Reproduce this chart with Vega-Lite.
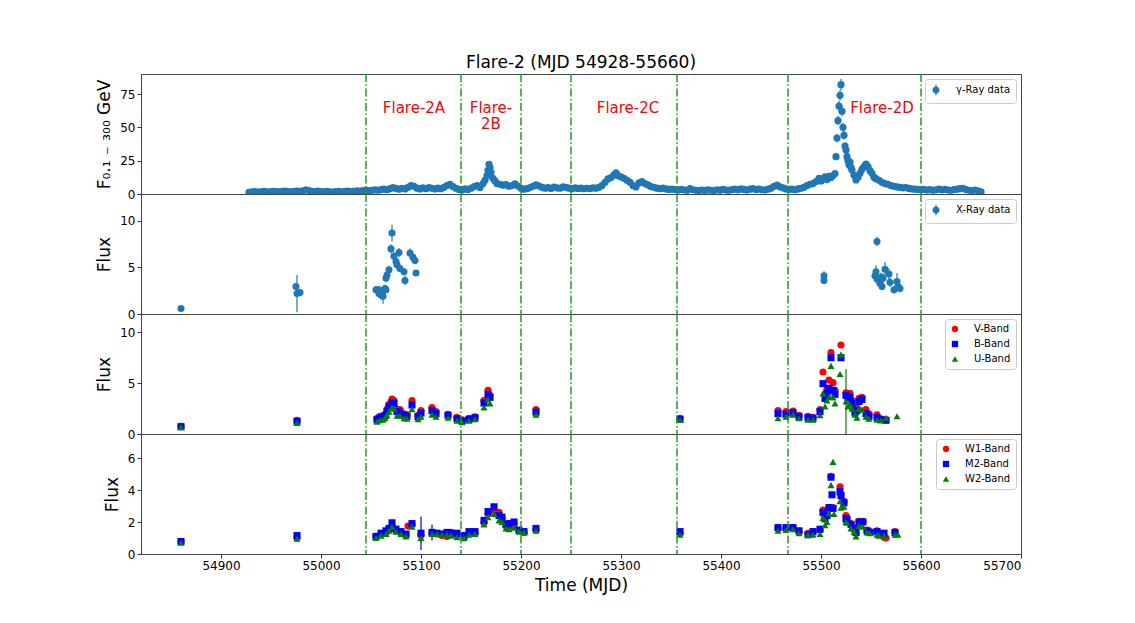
{
  "$schema": "https://vega.github.io/schema/vega-lite/v6.json",
  "background": "white",
  "padding": {"left": 95, "top": 53, "right": 10, "bottom": 10},
  "bounds": "flush",
  "datasets": {
    "gamma": [
      {"t":54928,"f":1.2,"e":0.6},{"t":54931,"f":1.6,"e":0.6},{"t":54934,"f":1.8,"e":0.6},{"t":54937,"f":1.5,"e":0.6},{"t":54940,"f":1.7,"e":0.6},
      {"t":54943,"f":1.9,"e":0.6},{"t":54946,"f":1.7,"e":0.6},{"t":54949,"f":1.6,"e":0.6},{"t":54952,"f":2.0,"e":0.6},{"t":54955,"f":1.8,"e":0.6},
      {"t":54958,"f":1.6,"e":0.6},{"t":54961,"f":1.9,"e":0.6},{"t":54964,"f":2.1,"e":0.6},{"t":54967,"f":1.8,"e":0.6},{"t":54970,"f":1.7,"e":0.6},
      {"t":54973,"f":2.0,"e":0.6},{"t":54976,"f":2.2,"e":0.6},{"t":54979,"f":1.9,"e":0.6},{"t":54982,"f":2.4,"e":0.6},{"t":54985,"f":3.2,"e":0.6},
      {"t":54988,"f":2.5,"e":0.6},{"t":54991,"f":2.0,"e":0.6},{"t":54994,"f":1.8,"e":0.6},{"t":54997,"f":2.1,"e":0.6},{"t":55000,"f":1.8,"e":0.6},
      {"t":55003,"f":1.6,"e":0.6},{"t":55006,"f":1.9,"e":0.6},{"t":55009,"f":1.7,"e":0.6},{"t":55012,"f":1.5,"e":0.6},{"t":55015,"f":1.8,"e":0.6},
      {"t":55018,"f":2.0,"e":0.6},{"t":55021,"f":1.7,"e":0.6},{"t":55024,"f":1.9,"e":0.6},{"t":55027,"f":2.1,"e":0.6},{"t":55030,"f":1.8,"e":0.6},
      {"t":55033,"f":2.0,"e":0.6},{"t":55036,"f":2.3,"e":0.6},{"t":55039,"f":2.1,"e":0.6},{"t":55042,"f":2.5,"e":0.6},{"t":55045,"f":2.7,"e":0.6},
      {"t":55048,"f":2.5,"e":0.6},{"t":55051,"f":2.8,"e":0.6},{"t":55054,"f":3.1,"e":0.6},{"t":55057,"f":2.8,"e":0.6},{"t":55060,"f":3.3,"e":0.6},
      {"t":55063,"f":3.7,"e":0.6},{"t":55066,"f":3.2,"e":0.6},{"t":55069,"f":4.0,"e":0.6},{"t":55072,"f":4.8,"e":0.7},{"t":55075,"f":4.2,"e":0.6},
      {"t":55078,"f":3.6,"e":0.6},{"t":55081,"f":4.3,"e":0.6},{"t":55084,"f":3.8,"e":0.6},{"t":55087,"f":5.0,"e":0.8},{"t":55090,"f":6.3,"e":0.9},
      {"t":55093,"f":5.8,"e":0.9},{"t":55096,"f":4.4,"e":0.6},{"t":55099,"f":3.8,"e":0.6},{"t":55102,"f":4.6,"e":0.7},{"t":55105,"f":4.0,"e":0.6},
      {"t":55108,"f":4.8,"e":0.7},{"t":55111,"f":4.3,"e":0.6},{"t":55114,"f":3.8,"e":0.6},{"t":55117,"f":4.4,"e":0.6},{"t":55120,"f":4.0,"e":0.6},
      {"t":55123,"f":5.0,"e":0.8},{"t":55126,"f":6.3,"e":0.9},{"t":55129,"f":7.2,"e":0.9},{"t":55132,"f":5.6,"e":0.8},{"t":55135,"f":4.3,"e":0.6},
      {"t":55138,"f":3.4,"e":0.6},{"t":55141,"f":3.0,"e":0.6},{"t":55144,"f":3.8,"e":0.6},{"t":55147,"f":3.3,"e":0.6},{"t":55150,"f":4.3,"e":0.6},
      {"t":55153,"f":5.6,"e":0.8},{"t":55156,"f":6.3,"e":0.9},{"t":55159,"f":4.8,"e":0.7},{"t":55162,"f":7.8,"e":1.0},{"t":55164,"f":10.3,"e":1.3},
      {"t":55166,"f":13.8,"e":1.5},{"t":55167,"f":17.8,"e":1.8},{"t":55168,"f":22.3,"e":2.2},{"t":55169,"f":19.8,"e":2.0},{"t":55170,"f":16.3,"e":1.7},
      {"t":55172,"f":11.8,"e":1.4},{"t":55174,"f":9.8,"e":1.2},{"t":55176,"f":7.8,"e":1.0},{"t":55179,"f":7.3,"e":1.0},{"t":55182,"f":6.6,"e":0.9},
      {"t":55185,"f":7.0,"e":0.9},{"t":55188,"f":5.8,"e":0.8},{"t":55191,"f":6.3,"e":0.9},{"t":55194,"f":7.6,"e":1.0},{"t":55197,"f":6.0,"e":0.8},
      {"t":55200,"f":4.3,"e":0.6},{"t":55203,"f":3.6,"e":0.6},{"t":55206,"f":4.0,"e":0.6},{"t":55209,"f":4.8,"e":0.7},{"t":55212,"f":5.8,"e":0.8},
      {"t":55215,"f":6.8,"e":0.9},{"t":55218,"f":6.0,"e":0.8},{"t":55221,"f":5.0,"e":0.7},{"t":55224,"f":4.4,"e":0.6},{"t":55227,"f":4.8,"e":0.7},
      {"t":55230,"f":4.2,"e":0.6},{"t":55233,"f":5.2,"e":0.7},{"t":55236,"f":4.6,"e":0.7},{"t":55239,"f":4.3,"e":0.6},{"t":55242,"f":5.4,"e":0.8},
      {"t":55245,"f":5.0,"e":0.7},{"t":55248,"f":4.4,"e":0.6},{"t":55251,"f":4.0,"e":0.6},{"t":55254,"f":4.6,"e":0.7},{"t":55257,"f":4.2,"e":0.6},
      {"t":55260,"f":4.4,"e":0.6},{"t":55263,"f":4.0,"e":0.6},{"t":55266,"f":4.3,"e":0.6},{"t":55269,"f":4.1,"e":0.6},{"t":55272,"f":4.6,"e":0.7},
      {"t":55275,"f":4.4,"e":0.6},{"t":55278,"f":5.0,"e":0.7},{"t":55281,"f":6.3,"e":0.9},{"t":55284,"f":8.8,"e":1.1},{"t":55287,"f":11.3,"e":1.3},
      {"t":55290,"f":12.3,"e":1.4},{"t":55293,"f":14.3,"e":1.5},{"t":55295,"f":15.8,"e":1.6},{"t":55297,"f":13.8,"e":1.5},{"t":55300,"f":12.8,"e":1.4},
      {"t":55303,"f":11.8,"e":1.4},{"t":55306,"f":10.3,"e":1.3},{"t":55309,"f":8.8,"e":1.1},{"t":55312,"f":6.3,"e":0.9},{"t":55315,"f":5.3,"e":0.8},
      {"t":55318,"f":8.3,"e":1.1},{"t":55321,"f":9.3,"e":1.2},{"t":55324,"f":7.8,"e":1.0},{"t":55327,"f":6.8,"e":0.9},{"t":55330,"f":5.6,"e":0.8},
      {"t":55333,"f":5.0,"e":0.7},{"t":55336,"f":4.4,"e":0.6},{"t":55339,"f":4.0,"e":0.6},{"t":55342,"f":4.4,"e":0.6},{"t":55345,"f":3.8,"e":0.6},
      {"t":55348,"f":3.4,"e":0.6},{"t":55351,"f":3.7,"e":0.6},{"t":55354,"f":3.3,"e":0.6},{"t":55357,"f":3.0,"e":0.6},{"t":55360,"f":3.4,"e":0.6},
      {"t":55363,"f":3.1,"e":0.6},{"t":55366,"f":2.8,"e":0.6},{"t":55369,"f":4.0,"e":0.6},{"t":55372,"f":3.2,"e":0.6},{"t":55375,"f":2.8,"e":0.6},
      {"t":55378,"f":2.6,"e":0.6},{"t":55381,"f":3.0,"e":0.6},{"t":55384,"f":2.7,"e":0.6},{"t":55387,"f":3.1,"e":0.6},{"t":55390,"f":2.8,"e":0.6},
      {"t":55393,"f":2.6,"e":0.6},{"t":55396,"f":3.2,"e":0.6},{"t":55399,"f":2.9,"e":0.6},{"t":55402,"f":3.4,"e":0.6},{"t":55405,"f":3.0,"e":0.6},
      {"t":55408,"f":2.8,"e":0.6},{"t":55411,"f":3.3,"e":0.6},{"t":55414,"f":3.6,"e":0.6},{"t":55417,"f":3.1,"e":0.6},{"t":55420,"f":3.8,"e":0.6},
      {"t":55423,"f":3.4,"e":0.6},{"t":55426,"f":3.0,"e":0.6},{"t":55429,"f":3.6,"e":0.6},{"t":55432,"f":4.0,"e":0.6},{"t":55435,"f":3.3,"e":0.6},
      {"t":55438,"f":3.7,"e":0.6},{"t":55441,"f":3.2,"e":0.6},{"t":55444,"f":3.0,"e":0.6},{"t":55447,"f":3.6,"e":0.6},{"t":55450,"f":4.3,"e":0.6},
      {"t":55453,"f":5.8,"e":0.8},{"t":55456,"f":6.6,"e":0.9},{"t":55459,"f":5.3,"e":0.8},{"t":55462,"f":4.6,"e":0.7},{"t":55465,"f":3.8,"e":0.6},
      {"t":55468,"f":3.4,"e":0.6},{"t":55471,"f":3.6,"e":0.6},{"t":55474,"f":3.2,"e":0.6},{"t":55477,"f":3.8,"e":0.6},{"t":55480,"f":4.3,"e":0.6},
      {"t":55483,"f":5.0,"e":0.7},{"t":55486,"f":6.3,"e":0.9},{"t":55489,"f":7.3,"e":1.0},{"t":55492,"f":7.8,"e":1.0},{"t":55495,"f":9.3,"e":1.2},
      {"t":55498,"f":11.8,"e":1.4},{"t":55500,"f":9.8,"e":1.2},{"t":55502,"f":11.3,"e":1.3},{"t":55504,"f":12.8,"e":1.4},{"t":55506,"f":10.8,"e":1.3},
      {"t":55508,"f":13.3,"e":1.5},{"t":55510,"f":12.3,"e":1.4},{"t":55512,"f":13.8,"e":1.5},{"t":55514,"f":15.3,"e":1.6},{"t":55515,"f":28.0,"e":2.4},
      {"t":55516,"f":42.0,"e":3.2},{"t":55517,"f":55.0,"e":3.5},{"t":55518,"f":66.0,"e":3.8},{"t":55519,"f":74.0,"e":4.0},{"t":55520,"f":82.0,"e":4.2},
      {"t":55521,"f":62.0,"e":3.6},{"t":55522,"f":50.0,"e":3.4},{"t":55523,"f":44.0,"e":3.2},{"t":55524,"f":36.0,"e":2.8},{"t":55525,"f":33.0,"e":2.6},
      {"t":55526,"f":28.0,"e":2.4},{"t":55527,"f":25.0,"e":2.2},{"t":55528,"f":22.0,"e":2.1},{"t":55529,"f":24.0,"e":2.2},{"t":55530,"f":20.0,"e":2.0},
      {"t":55531,"f":18.0,"e":1.8},{"t":55533,"f":14.0,"e":1.5},{"t":55535,"f":10.5,"e":1.3},{"t":55537,"f":12.5,"e":1.4},{"t":55539,"f":15.5,"e":1.6},
      {"t":55541,"f":18.5,"e":1.8},{"t":55543,"f":20.5,"e":2.0},{"t":55545,"f":22.5,"e":2.1},{"t":55547,"f":20.5,"e":2.0},{"t":55549,"f":17.5,"e":1.8},
      {"t":55551,"f":15.5,"e":1.6},{"t":55553,"f":12.5,"e":1.4},{"t":55555,"f":11.5,"e":1.4},{"t":55558,"f":10.3,"e":1.3},{"t":55561,"f":8.8,"e":1.1},
      {"t":55564,"f":7.8,"e":1.0},{"t":55567,"f":7.3,"e":1.0},{"t":55570,"f":6.3,"e":0.9},{"t":55573,"f":5.8,"e":0.8},{"t":55576,"f":5.3,"e":0.8},
      {"t":55579,"f":5.0,"e":0.7},{"t":55582,"f":4.6,"e":0.7},{"t":55585,"f":4.8,"e":0.7},{"t":55588,"f":4.2,"e":0.6},{"t":55591,"f":3.8,"e":0.6},
      {"t":55594,"f":3.6,"e":0.6},{"t":55597,"f":3.4,"e":0.6},{"t":55600,"f":3.2,"e":0.6},{"t":55603,"f":3.4,"e":0.6},{"t":55606,"f":3.0,"e":0.6},
      {"t":55609,"f":3.3,"e":0.6},{"t":55612,"f":2.8,"e":0.6},{"t":55615,"f":3.2,"e":0.6},{"t":55618,"f":3.6,"e":0.6},{"t":55621,"f":3.1,"e":0.6},
      {"t":55624,"f":3.4,"e":0.6},{"t":55627,"f":3.0,"e":0.6},{"t":55630,"f":2.8,"e":0.6},{"t":55633,"f":3.3,"e":0.6},{"t":55636,"f":3.6,"e":0.6},
      {"t":55639,"f":4.0,"e":0.6},{"t":55642,"f":4.3,"e":0.6},{"t":55645,"f":3.3,"e":0.6},{"t":55648,"f":2.8,"e":0.6},{"t":55651,"f":2.6,"e":0.6},
      {"t":55654,"f":3.0,"e":0.6},{"t":55657,"f":2.4,"e":0.6},{"t":55660,"f":1.6,"e":0.6}
    ],
    "xray": [
      {"t":54860,"f":0.6,"e":0.1},{"t":54975,"f":2.95,"e":0.3},{"t":54976,"f":2.2,"e":2.0},{"t":54979,"f":2.3,"e":0.3},
      {"t":55055,"f":2.6,"e":0.4},{"t":55058,"f":2.6,"e":0.4},{"t":55058,"f":2.2,"e":0.4},{"t":55060,"f":2.05,"e":0.5},
      {"t":55061,"f":2.4,"e":0.4},{"t":55062,"f":1.9,"e":0.8},{"t":55064,"f":2.75,"e":0.4},{"t":55065,"f":2.6,"e":0.4},
      {"t":55065,"f":3.85,"e":0.4},{"t":55066,"f":4.2,"e":0.4},{"t":55068,"f":4.75,"e":0.4},{"t":55070,"f":7.0,"e":0.5},
      {"t":55071,"f":8.7,"e":0.9},{"t":55073,"f":6.2,"e":0.5},{"t":55075,"f":5.65,"e":0.4},{"t":55076,"f":5.3,"e":0.4},
      {"t":55078,"f":6.6,"e":0.5},{"t":55079,"f":4.9,"e":0.4},{"t":55083,"f":4.55,"e":0.4},{"t":55084,"f":3.6,"e":0.5},
      {"t":55089,"f":6.55,"e":0.5},{"t":55092,"f":6.1,"e":0.4},{"t":55094,"f":5.75,"e":0.4},{"t":55095,"f":4.4,"e":0.3},
      {"t":55503,"f":4.1,"e":0.5},{"t":55503,"f":3.6,"e":0.4},{"t":55554,"f":4.1,"e":0.6},{"t":55555,"f":4.55,"e":0.7},
      {"t":55556,"f":7.8,"e":0.5},{"t":55556,"f":3.75,"e":0.5},{"t":55559,"f":3.3,"e":0.4},{"t":55560,"f":3.95,"e":0.5},
      {"t":55561,"f":2.95,"e":0.4},{"t":55562,"f":3.85,"e":0.5},{"t":55564,"f":4.8,"e":0.8},{"t":55568,"f":4.3,"e":0.6},
      {"t":55569,"f":3.4,"e":0.5},{"t":55573,"f":2.6,"e":0.4},{"t":55576,"f":3.5,"e":0.9},{"t":55577,"f":2.95,"e":0.5},
      {"t":55579,"f":2.75,"e":0.4}
    ],
    "opt": [
      {"t":54860,"b":"V-Band","f":0.75,"e":0.1},{"t":54976,"b":"V-Band","f":1.35,"e":0.1},{"t":55056,"b":"V-Band","f":1.55,"e":0.1},
      {"t":55059,"b":"V-Band","f":1.75,"e":0.1},{"t":55062,"b":"V-Band","f":1.8,"e":0.1},{"t":55064,"b":"V-Band","f":1.95,"e":0.1},
      {"t":55066,"b":"V-Band","f":2.45,"e":0.1},{"t":55068,"b":"V-Band","f":2.95,"e":0.1},{"t":55071,"b":"V-Band","f":3.45,"e":0.1},
      {"t":55073,"b":"V-Band","f":3.3,"e":0.1},{"t":55076,"b":"V-Band","f":2.45,"e":0.1},{"t":55079,"b":"V-Band","f":2.4,"e":0.1},
      {"t":55083,"b":"V-Band","f":2.0,"e":0.1},{"t":55086,"b":"V-Band","f":1.9,"e":0.1},{"t":55091,"b":"V-Band","f":3.3,"e":0.1},
      {"t":55097,"b":"V-Band","f":1.85,"e":0.1},{"t":55100,"b":"V-Band","f":2.3,"e":0.1},{"t":55111,"b":"V-Band","f":2.6,"e":0.1},
      {"t":55115,"b":"V-Band","f":2.2,"e":0.1},{"t":55127,"b":"V-Band","f":1.95,"e":0.1},{"t":55136,"b":"V-Band","f":1.65,"e":0.1},
      {"t":55141,"b":"V-Band","f":1.4,"e":0.1},{"t":55148,"b":"V-Band","f":1.55,"e":0.1},{"t":55154,"b":"V-Band","f":1.7,"e":0.1},
      {"t":55163,"b":"V-Band","f":3.3,"e":0.1},{"t":55167,"b":"V-Band","f":4.3,"e":0.1},{"t":55169,"b":"V-Band","f":3.8,"e":0.1},
      {"t":55215,"b":"V-Band","f":2.4,"e":0.1},{"t":55359,"b":"V-Band","f":1.55,"e":0.1},{"t":55457,"b":"V-Band","f":2.3,"e":0.1},
      {"t":55465,"b":"V-Band","f":2.2,"e":0.1},{"t":55472,"b":"V-Band","f":2.25,"e":0.1},{"t":55478,"b":"V-Band","f":1.85,"e":0.1},
      {"t":55487,"b":"V-Band","f":1.75,"e":0.1},{"t":55492,"b":"V-Band","f":1.65,"e":0.1},{"t":55499,"b":"V-Band","f":2.4,"e":0.1},
      {"t":55502,"b":"V-Band","f":6.1,"e":0.15},{"t":55504,"b":"V-Band","f":3.9,"e":0.1},{"t":55506,"b":"V-Band","f":4.4,"e":0.1},
      {"t":55508,"b":"V-Band","f":5.3,"e":0.15},{"t":55510,"b":"V-Band","f":8.0,"e":0.2},{"t":55512,"b":"V-Band","f":5.05,"e":0.15},
      {"t":55514,"b":"V-Band","f":4.3,"e":0.1},{"t":55520,"b":"V-Band","f":8.75,"e":0.2},{"t":55525,"b":"V-Band","f":4.05,"e":0.1},
      {"t":55527,"b":"V-Band","f":3.9,"e":0.1},{"t":55529,"b":"V-Band","f":4.0,"e":0.1},{"t":55531,"b":"V-Band","f":3.3,"e":0.1},
      {"t":55534,"b":"V-Band","f":2.4,"e":0.1},{"t":55536,"b":"V-Band","f":2.6,"e":0.1},{"t":55538,"b":"V-Band","f":3.5,"e":0.1},
      {"t":55541,"b":"V-Band","f":3.6,"e":0.1},{"t":55545,"b":"V-Band","f":2.4,"e":0.1},{"t":55548,"b":"V-Band","f":2.0,"e":0.1},
      {"t":55556,"b":"V-Band","f":1.9,"e":0.1},{"t":55560,"b":"V-Band","f":1.5,"e":0.1},{"t":55565,"b":"V-Band","f":1.4,"e":0.1},
      {"t":54860,"b":"B-Band","f":0.72,"e":0.1},{"t":54976,"b":"B-Band","f":1.25,"e":0.1},{"t":55056,"b":"B-Band","f":1.4,"e":0.1},
      {"t":55059,"b":"B-Band","f":1.6,"e":0.1},{"t":55062,"b":"B-Band","f":1.65,"e":0.1},{"t":55064,"b":"B-Band","f":1.8,"e":0.1},
      {"t":55066,"b":"B-Band","f":2.2,"e":0.1},{"t":55068,"b":"B-Band","f":2.7,"e":0.1},{"t":55071,"b":"B-Band","f":3.1,"e":0.1},
      {"t":55073,"b":"B-Band","f":3.0,"e":0.1},{"t":55076,"b":"B-Band","f":2.2,"e":0.1},{"t":55079,"b":"B-Band","f":2.15,"e":0.1},
      {"t":55083,"b":"B-Band","f":1.85,"e":0.1},{"t":55086,"b":"B-Band","f":1.75,"e":0.1},{"t":55091,"b":"B-Band","f":2.85,"e":0.1},
      {"t":55097,"b":"B-Band","f":1.7,"e":0.1},{"t":55100,"b":"B-Band","f":2.05,"e":0.1},{"t":55111,"b":"B-Band","f":2.3,"e":0.1},
      {"t":55115,"b":"B-Band","f":2.0,"e":0.1},{"t":55127,"b":"B-Band","f":1.85,"e":0.1},{"t":55136,"b":"B-Band","f":1.5,"e":0.1},
      {"t":55141,"b":"B-Band","f":1.3,"e":0.1},{"t":55148,"b":"B-Band","f":1.45,"e":0.1},{"t":55154,"b":"B-Band","f":1.6,"e":0.1},
      {"t":55163,"b":"B-Band","f":3.05,"e":0.1},{"t":55167,"b":"B-Band","f":3.9,"e":0.1},{"t":55169,"b":"B-Band","f":3.6,"e":0.1},
      {"t":55215,"b":"B-Band","f":2.15,"e":0.1},{"t":55359,"b":"B-Band","f":1.45,"e":0.1},{"t":55457,"b":"B-Band","f":2.0,"e":0.1},
      {"t":55465,"b":"B-Band","f":1.95,"e":0.1},{"t":55472,"b":"B-Band","f":2.1,"e":0.1},{"t":55478,"b":"B-Band","f":1.7,"e":0.1},
      {"t":55487,"b":"B-Band","f":1.6,"e":0.1},{"t":55492,"b":"B-Band","f":1.55,"e":0.1},{"t":55499,"b":"B-Band","f":2.2,"e":0.1},
      {"t":55502,"b":"B-Band","f":4.95,"e":0.15},{"t":55504,"b":"B-Band","f":3.5,"e":0.1},{"t":55506,"b":"B-Band","f":4.0,"e":0.1},
      {"t":55508,"b":"B-Band","f":4.5,"e":0.15},{"t":55510,"b":"B-Band","f":7.5,"e":0.2},{"t":55512,"b":"B-Band","f":4.3,"e":0.15},
      {"t":55514,"b":"B-Band","f":3.9,"e":0.1},{"t":55520,"b":"B-Band","f":7.5,"e":0.2},{"t":55525,"b":"B-Band","f":3.8,"e":0.1},
      {"t":55527,"b":"B-Band","f":3.6,"e":0.1},{"t":55529,"b":"B-Band","f":3.6,"e":0.1},{"t":55531,"b":"B-Band","f":3.0,"e":0.1},
      {"t":55534,"b":"B-Band","f":2.1,"e":0.1},{"t":55536,"b":"B-Band","f":2.3,"e":0.1},{"t":55538,"b":"B-Band","f":3.2,"e":0.1},
      {"t":55541,"b":"B-Band","f":3.4,"e":0.1},{"t":55545,"b":"B-Band","f":2.0,"e":0.1},{"t":55548,"b":"B-Band","f":1.75,"e":0.1},
      {"t":55556,"b":"B-Band","f":1.6,"e":0.1},{"t":55560,"b":"B-Band","f":1.4,"e":0.1},{"t":55565,"b":"B-Band","f":1.35,"e":0.1},
      {"t":54860,"b":"U-Band","f":0.68,"e":0.1},{"t":54976,"b":"U-Band","f":1.1,"e":0.1},{"t":55056,"b":"U-Band","f":1.2,"e":0.1},
      {"t":55059,"b":"U-Band","f":1.35,"e":0.1},{"t":55062,"b":"U-Band","f":1.4,"e":0.1},{"t":55064,"b":"U-Band","f":1.55,"e":0.1},
      {"t":55066,"b":"U-Band","f":1.85,"e":0.1},{"t":55068,"b":"U-Band","f":2.2,"e":0.1},{"t":55071,"b":"U-Band","f":2.6,"e":0.1},
      {"t":55073,"b":"U-Band","f":2.5,"e":0.1},{"t":55076,"b":"U-Band","f":1.8,"e":0.1},{"t":55079,"b":"U-Band","f":1.8,"e":0.1},
      {"t":55083,"b":"U-Band","f":1.55,"e":0.1},{"t":55086,"b":"U-Band","f":1.5,"e":0.1},{"t":55091,"b":"U-Band","f":2.45,"e":0.1},
      {"t":55097,"b":"U-Band","f":1.45,"e":0.1},{"t":55100,"b":"U-Band","f":1.7,"e":0.1},{"t":55111,"b":"U-Band","f":1.9,"e":0.1},
      {"t":55115,"b":"U-Band","f":1.7,"e":0.1},{"t":55127,"b":"U-Band","f":1.6,"e":0.1},{"t":55136,"b":"U-Band","f":1.3,"e":0.1},
      {"t":55141,"b":"U-Band","f":1.15,"e":0.1},{"t":55148,"b":"U-Band","f":1.3,"e":0.1},{"t":55154,"b":"U-Band","f":1.45,"e":0.1},
      {"t":55163,"b":"U-Band","f":2.6,"e":0.1},{"t":55167,"b":"U-Band","f":3.4,"e":0.1},{"t":55169,"b":"U-Band","f":3.0,"e":0.1},
      {"t":55215,"b":"U-Band","f":1.9,"e":0.1},{"t":55359,"b":"U-Band","f":1.4,"e":0.1},{"t":55457,"b":"U-Band","f":1.55,"e":0.1},
      {"t":55465,"b":"U-Band","f":1.7,"e":0.1},{"t":55472,"b":"U-Band","f":1.9,"e":0.1},{"t":55478,"b":"U-Band","f":1.55,"e":0.1},
      {"t":55487,"b":"U-Band","f":1.4,"e":0.1},{"t":55492,"b":"U-Band","f":1.4,"e":0.1},{"t":55499,"b":"U-Band","f":1.85,"e":0.1},
      {"t":55502,"b":"U-Band","f":4.0,"e":0.15},{"t":55504,"b":"U-Band","f":2.7,"e":0.1},{"t":55506,"b":"U-Band","f":3.3,"e":0.1},
      {"t":55508,"b":"U-Band","f":3.65,"e":0.15},{"t":55510,"b":"U-Band","f":6.7,"e":0.2},{"t":55512,"b":"U-Band","f":3.6,"e":0.15},
      {"t":55514,"b":"U-Band","f":3.0,"e":0.1},{"t":55519,"b":"U-Band","f":5.9,"e":0.2},{"t":55520,"b":"U-Band","f":7.8,"e":0.2},
      {"t":55525,"b":"U-Band","f":3.2,"e":3.2},{"t":55527,"b":"U-Band","f":2.7,"e":0.1},{"t":55529,"b":"U-Band","f":2.9,"e":0.1},
      {"t":55531,"b":"U-Band","f":2.5,"e":0.1},{"t":55534,"b":"U-Band","f":1.9,"e":0.1},{"t":55536,"b":"U-Band","f":1.6,"e":0.1},
      {"t":55538,"b":"U-Band","f":2.5,"e":0.1},{"t":55541,"b":"U-Band","f":2.4,"e":0.1},{"t":55545,"b":"U-Band","f":1.7,"e":0.1},
      {"t":55548,"b":"U-Band","f":1.5,"e":0.1},{"t":55556,"b":"U-Band","f":1.4,"e":0.1},{"t":55560,"b":"U-Band","f":1.35,"e":0.1},
      {"t":55565,"b":"U-Band","f":1.6,"e":0.1},{"t":55576,"b":"U-Band","f":1.75,"e":0.1}
    ],
    "uv": [
      {"t":54860,"b":"W1-Band","f":0.75,"e":0.08},{"t":54976,"b":"W1-Band","f":1.0,"e":0.08},{"t":55055,"b":"W1-Band","f":1.1,"e":0.08},
      {"t":55060,"b":"W1-Band","f":1.25,"e":0.08},{"t":55065,"b":"W1-Band","f":1.35,"e":0.08},{"t":55068,"b":"W1-Band","f":1.5,"e":0.08},
      {"t":55071,"b":"W1-Band","f":1.75,"e":0.08},{"t":55075,"b":"W1-Band","f":1.45,"e":0.08},{"t":55080,"b":"W1-Band","f":1.3,"e":0.08},
      {"t":55085,"b":"W1-Band","f":1.15,"e":0.08},{"t":55087,"b":"W1-Band","f":1.75,"e":0.08},{"t":55091,"b":"W1-Band","f":1.85,"e":0.08},
      {"t":55100,"b":"W1-Band","f":1.15,"e":0.08},{"t":55111,"b":"W1-Band","f":1.3,"e":0.08},{"t":55116,"b":"W1-Band","f":1.25,"e":0.08},
      {"t":55121,"b":"W1-Band","f":1.15,"e":0.08},{"t":55126,"b":"W1-Band","f":1.1,"e":0.08},{"t":55130,"b":"W1-Band","f":1.35,"e":0.08},
      {"t":55136,"b":"W1-Band","f":1.15,"e":0.08},{"t":55143,"b":"W1-Band","f":1.0,"e":0.08},{"t":55148,"b":"W1-Band","f":1.3,"e":0.08},
      {"t":55154,"b":"W1-Band","f":1.3,"e":0.08},{"t":55163,"b":"W1-Band","f":1.95,"e":0.08},{"t":55167,"b":"W1-Band","f":2.5,"e":0.08},
      {"t":55173,"b":"W1-Band","f":2.7,"e":0.08},{"t":55178,"b":"W1-Band","f":2.6,"e":0.08},{"t":55181,"b":"W1-Band","f":2.2,"e":0.08},
      {"t":55185,"b":"W1-Band","f":1.75,"e":0.08},{"t":55188,"b":"W1-Band","f":1.7,"e":0.08},{"t":55193,"b":"W1-Band","f":1.85,"e":0.08},
      {"t":55198,"b":"W1-Band","f":1.45,"e":0.08},{"t":55203,"b":"W1-Band","f":1.35,"e":0.08},{"t":55215,"b":"W1-Band","f":1.5,"e":0.08},
      {"t":55359,"b":"W1-Band","f":1.3,"e":0.08},{"t":55457,"b":"W1-Band","f":1.6,"e":0.08},{"t":55465,"b":"W1-Band","f":1.6,"e":0.08},
      {"t":55472,"b":"W1-Band","f":1.6,"e":0.08},{"t":55478,"b":"W1-Band","f":1.4,"e":0.08},{"t":55487,"b":"W1-Band","f":1.3,"e":0.08},
      {"t":55492,"b":"W1-Band","f":1.35,"e":0.08},{"t":55499,"b":"W1-Band","f":1.5,"e":0.08},{"t":55502,"b":"W1-Band","f":2.75,"e":0.1},
      {"t":55504,"b":"W1-Band","f":2.3,"e":0.1},{"t":55506,"b":"W1-Band","f":2.5,"e":0.1},{"t":55508,"b":"W1-Band","f":2.9,"e":0.1},
      {"t":55510,"b":"W1-Band","f":4.85,"e":0.15},{"t":55512,"b":"W1-Band","f":2.9,"e":0.1},{"t":55519,"b":"W1-Band","f":4.2,"e":0.15},
      {"t":55520,"b":"W1-Band","f":3.7,"e":0.1},{"t":55523,"b":"W1-Band","f":3.3,"e":0.1},{"t":55525,"b":"W1-Band","f":2.4,"e":0.1},
      {"t":55526,"b":"W1-Band","f":2.2,"e":0.1},{"t":55530,"b":"W1-Band","f":1.9,"e":0.08},{"t":55533,"b":"W1-Band","f":1.65,"e":0.08},
      {"t":55535,"b":"W1-Band","f":1.3,"e":0.08},{"t":55538,"b":"W1-Band","f":2.05,"e":0.08},{"t":55542,"b":"W1-Band","f":2.05,"e":0.08},
      {"t":55546,"b":"W1-Band","f":1.5,"e":0.08},{"t":55549,"b":"W1-Band","f":1.4,"e":0.08},{"t":55556,"b":"W1-Band","f":1.45,"e":0.08},
      {"t":55558,"b":"W1-Band","f":1.2,"e":0.08},{"t":55563,"b":"W1-Band","f":1.05,"e":0.08},{"t":55565,"b":"W1-Band","f":1.0,"e":0.08},
      {"t":55574,"b":"W1-Band","f":1.4,"e":0.08},
      {"t":54860,"b":"M2-Band","f":0.78,"e":0.08},{"t":54976,"b":"M2-Band","f":1.15,"e":0.08},{"t":55055,"b":"M2-Band","f":1.1,"e":0.08},
      {"t":55060,"b":"M2-Band","f":1.3,"e":0.08},{"t":55065,"b":"M2-Band","f":1.45,"e":0.08},{"t":55068,"b":"M2-Band","f":1.6,"e":0.08},
      {"t":55071,"b":"M2-Band","f":1.95,"e":0.08},{"t":55075,"b":"M2-Band","f":1.55,"e":0.08},{"t":55080,"b":"M2-Band","f":1.4,"e":0.08},
      {"t":55085,"b":"M2-Band","f":1.25,"e":0.08},{"t":55091,"b":"M2-Band","f":1.9,"e":0.08},{"t":55100,"b":"M2-Band","f":1.3,"e":1.05},
      {"t":55111,"b":"M2-Band","f":1.35,"e":0.5},{"t":55116,"b":"M2-Band","f":1.3,"e":0.08},{"t":55121,"b":"M2-Band","f":1.25,"e":0.08},
      {"t":55126,"b":"M2-Band","f":1.35,"e":0.08},{"t":55130,"b":"M2-Band","f":1.3,"e":0.08},{"t":55136,"b":"M2-Band","f":1.3,"e":0.08},
      {"t":55143,"b":"M2-Band","f":1.15,"e":0.08},{"t":55148,"b":"M2-Band","f":1.4,"e":0.08},{"t":55154,"b":"M2-Band","f":1.4,"e":0.08},
      {"t":55163,"b":"M2-Band","f":2.1,"e":0.08},{"t":55167,"b":"M2-Band","f":2.65,"e":0.08},{"t":55173,"b":"M2-Band","f":2.95,"e":0.08},
      {"t":55178,"b":"M2-Band","f":2.4,"e":0.08},{"t":55181,"b":"M2-Band","f":2.3,"e":0.08},{"t":55185,"b":"M2-Band","f":1.85,"e":0.08},
      {"t":55188,"b":"M2-Band","f":1.9,"e":0.08},{"t":55193,"b":"M2-Band","f":2.0,"e":0.08},{"t":55198,"b":"M2-Band","f":1.5,"e":0.08},
      {"t":55203,"b":"M2-Band","f":1.4,"e":0.08},{"t":55215,"b":"M2-Band","f":1.6,"e":0.08},{"t":55359,"b":"M2-Band","f":1.4,"e":0.08},
      {"t":55457,"b":"M2-Band","f":1.65,"e":0.08},{"t":55465,"b":"M2-Band","f":1.65,"e":0.08},{"t":55472,"b":"M2-Band","f":1.65,"e":0.08},
      {"t":55478,"b":"M2-Band","f":1.45,"e":0.08},{"t":55487,"b":"M2-Band","f":1.2,"e":0.08},{"t":55492,"b":"M2-Band","f":1.4,"e":0.08},
      {"t":55499,"b":"M2-Band","f":1.55,"e":0.08},{"t":55502,"b":"M2-Band","f":2.6,"e":0.1},{"t":55504,"b":"M2-Band","f":2.2,"e":0.1},
      {"t":55506,"b":"M2-Band","f":2.4,"e":0.1},{"t":55508,"b":"M2-Band","f":2.9,"e":0.1},{"t":55510,"b":"M2-Band","f":4.8,"e":0.15},
      {"t":55511,"b":"M2-Band","f":3.7,"e":0.1},{"t":55512,"b":"M2-Band","f":2.85,"e":0.1},{"t":55519,"b":"M2-Band","f":3.9,"e":0.15},
      {"t":55520,"b":"M2-Band","f":3.65,"e":0.1},{"t":55523,"b":"M2-Band","f":3.2,"e":0.1},{"t":55525,"b":"M2-Band","f":2.2,"e":0.1},
      {"t":55526,"b":"M2-Band","f":2.15,"e":0.1},{"t":55530,"b":"M2-Band","f":1.85,"e":0.08},{"t":55533,"b":"M2-Band","f":1.6,"e":0.08},
      {"t":55535,"b":"M2-Band","f":1.35,"e":0.08},{"t":55538,"b":"M2-Band","f":2.0,"e":0.08},{"t":55542,"b":"M2-Band","f":2.0,"e":0.08},
      {"t":55546,"b":"M2-Band","f":1.45,"e":0.08},{"t":55549,"b":"M2-Band","f":1.35,"e":0.08},{"t":55556,"b":"M2-Band","f":1.4,"e":0.08},
      {"t":55558,"b":"M2-Band","f":1.25,"e":0.08},{"t":55563,"b":"M2-Band","f":1.3,"e":0.08},{"t":55574,"b":"M2-Band","f":1.35,"e":0.08},
      {"t":54860,"b":"W2-Band","f":0.7,"e":0.08},{"t":54976,"b":"W2-Band","f":0.95,"e":0.08},{"t":55055,"b":"W2-Band","f":1.0,"e":0.08},
      {"t":55060,"b":"W2-Band","f":1.15,"e":0.08},{"t":55065,"b":"W2-Band","f":1.25,"e":0.08},{"t":55068,"b":"W2-Band","f":1.45,"e":0.08},
      {"t":55071,"b":"W2-Band","f":1.7,"e":0.08},{"t":55075,"b":"W2-Band","f":1.4,"e":0.08},{"t":55080,"b":"W2-Band","f":1.25,"e":0.08},
      {"t":55085,"b":"W2-Band","f":1.1,"e":0.08},{"t":55091,"b":"W2-Band","f":1.7,"e":0.08},{"t":55100,"b":"W2-Band","f":1.0,"e":0.3},
      {"t":55111,"b":"W2-Band","f":1.25,"e":0.08},{"t":55116,"b":"W2-Band","f":1.25,"e":0.08},{"t":55121,"b":"W2-Band","f":1.2,"e":0.08},
      {"t":55126,"b":"W2-Band","f":1.2,"e":0.08},{"t":55130,"b":"W2-Band","f":1.15,"e":0.08},{"t":55136,"b":"W2-Band","f":1.05,"e":0.08},
      {"t":55143,"b":"W2-Band","f":1.0,"e":0.08},{"t":55148,"b":"W2-Band","f":1.2,"e":0.08},{"t":55154,"b":"W2-Band","f":1.25,"e":0.08},
      {"t":55163,"b":"W2-Band","f":1.85,"e":0.08},{"t":55167,"b":"W2-Band","f":2.3,"e":0.08},{"t":55173,"b":"W2-Band","f":2.5,"e":0.08},
      {"t":55178,"b":"W2-Band","f":2.1,"e":0.08},{"t":55181,"b":"W2-Band","f":2.0,"e":0.08},{"t":55185,"b":"W2-Band","f":1.6,"e":0.08},
      {"t":55188,"b":"W2-Band","f":1.55,"e":0.08},{"t":55193,"b":"W2-Band","f":1.65,"e":0.08},{"t":55198,"b":"W2-Band","f":1.4,"e":0.08},
      {"t":55203,"b":"W2-Band","f":1.35,"e":0.08},{"t":55215,"b":"W2-Band","f":1.45,"e":0.08},{"t":55359,"b":"W2-Band","f":1.2,"e":0.08},
      {"t":55457,"b":"W2-Band","f":1.45,"e":0.08},{"t":55465,"b":"W2-Band","f":1.5,"e":0.08},{"t":55472,"b":"W2-Band","f":1.55,"e":0.08},
      {"t":55478,"b":"W2-Band","f":1.3,"e":0.08},{"t":55487,"b":"W2-Band","f":1.2,"e":0.08},{"t":55492,"b":"W2-Band","f":1.2,"e":0.08},
      {"t":55499,"b":"W2-Band","f":1.25,"e":0.08},{"t":55502,"b":"W2-Band","f":2.25,"e":0.1},{"t":55504,"b":"W2-Band","f":1.8,"e":0.1},
      {"t":55506,"b":"W2-Band","f":2.0,"e":0.1},{"t":55508,"b":"W2-Band","f":2.55,"e":0.1},{"t":55510,"b":"W2-Band","f":4.3,"e":0.15},
      {"t":55512,"b":"W2-Band","f":5.75,"e":0.15},{"t":55513,"b":"W2-Band","f":2.5,"e":0.1},{"t":55519,"b":"W2-Band","f":3.3,"e":0.1},
      {"t":55520,"b":"W2-Band","f":2.9,"e":0.1},{"t":55523,"b":"W2-Band","f":2.95,"e":0.1},{"t":55525,"b":"W2-Band","f":2.0,"e":0.1},
      {"t":55526,"b":"W2-Band","f":1.95,"e":0.1},{"t":55530,"b":"W2-Band","f":1.6,"e":0.08},{"t":55533,"b":"W2-Band","f":1.4,"e":0.08},
      {"t":55535,"b":"W2-Band","f":1.1,"e":0.08},{"t":55538,"b":"W2-Band","f":1.75,"e":0.08},{"t":55542,"b":"W2-Band","f":1.7,"e":0.08},
      {"t":55546,"b":"W2-Band","f":1.35,"e":0.08},{"t":55549,"b":"W2-Band","f":1.3,"e":0.08},{"t":55556,"b":"W2-Band","f":1.2,"e":0.08},
      {"t":55558,"b":"W2-Band","f":1.15,"e":0.08},{"t":55563,"b":"W2-Band","f":1.15,"e":0.08},{"t":55574,"b":"W2-Band","f":1.2,"e":0.08},
      {"t":55577,"b":"W2-Band","f":1.2,"e":0.08}
    ],
    "lines": [{"t":55045},{"t":55140},{"t":55200},{"t":55250},{"t":55356},{"t":55467},{"t":55600}],
    "labels": [
      {"t":55093,"f":70,"label":"Flare-2A"},
      {"t":55170,"f":70,"label":"Flare-\n2B"},
      {"t":55307,"f":70,"label":"Flare-2C"},
      {"t":55561,"f":70,"label":"Flare-2D"}
    ]
  },
  "spacing": 0,
  "vconcat": [
    {
      "width": 880,
      "height": 120,
      "title": {"text": "Flare-2 (MJD 54928-55660)", "fontSize": 17, "fontWeight": "normal", "frame": "group", "anchor": "middle", "offset": 1},
      "layer": [
        {
          "data": {"name": "gamma"},
          "mark": {"type": "errorbar", "ticks": false, "color": "#1f77b4", "thickness": 1.2},
          "encoding": {
            "x": {"field": "t", "type": "quantitative", "scale": {"domain": [54820, 55700], "nice": false, "zero": false}, "axis": null},
            "y": {"field": "f", "type": "quantitative", "title": "F₀.₁ ₋ ₃₀₀ GeV", "scale": {"domain": [0, 90], "nice": false}, "axis": {"values": [0, 25, 50, 75]}},
            "yError": {"field": "e"}
          }
        },
        {
          "data": {"name": "gamma"},
          "mark": {"type": "point", "filled": true, "shape": "circle", "size": 52, "opacity": 1, "clip": true},
          "encoding": {
            "x": {"field": "t", "type": "quantitative"},
            "y": {"field": "f", "type": "quantitative", "title": "F₀.₁ ₋ ₃₀₀ GeV", "axis": {"values": [0, 25, 50, 75]}},
            "color": {"datum": "γ-Ray data", "type": "nominal", "scale": {"range": ["#1f77b4"]}, "legend": {"title": null, "symbolType": "M0,-1L0,1M-0.55,0A0.55,0.55,0,1,0,0.55,0A0.55,0.55,0,1,0,-0.55,0Z", "symbolSize": 110, "symbolStrokeColor": "#1f77b4", "symbolStrokeWidth": 1.3}}
          }
        },
        {
          "data": {"name": "lines"},
          "mark": {"type": "rule", "color": "#229922", "strokeWidth": 1.5, "strokeDash": [8, 2.5, 1.5, 2.5]},
          "encoding": {"x": {"field": "t", "type": "quantitative"}}
        },
        {
          "data": {"name": "labels"},
          "mark": {"type": "text", "color": "#ff0000", "fontSize": 15, "align": "center", "baseline": "top", "lineHeight": 16, "lineBreak": "\n"},
          "encoding": {
            "x": {"field": "t", "type": "quantitative"},
            "y": {"field": "f", "type": "quantitative", "title": "F₀.₁ ₋ ₃₀₀ GeV", "axis": {"values": [0, 25, 50, 75]}},
            "text": {"field": "label"}
          }
        }
      ]
    },
    {
      "width": 880,
      "height": 120,
      "layer": [
        {
          "data": {"name": "xray"},
          "mark": {"type": "errorbar", "ticks": false, "color": "#1f77b4", "thickness": 1.2},
          "encoding": {
            "x": {"field": "t", "type": "quantitative", "scale": {"domain": [54820, 55700], "nice": false, "zero": false}, "axis": null},
            "y": {"field": "f", "type": "quantitative", "title": "Flux", "scale": {"domain": [0, 12.9], "nice": false}, "axis": {"values": [0, 5, 10]}},
            "yError": {"field": "e"}
          }
        },
        {
          "data": {"name": "xray"},
          "mark": {"type": "point", "filled": true, "shape": "circle", "size": 50, "opacity": 1},
          "encoding": {
            "x": {"field": "t", "type": "quantitative"},
            "y": {"field": "f", "type": "quantitative", "title": "Flux", "axis": {"values": [0, 5, 10]}},
            "color": {"datum": "X-Ray data", "type": "nominal", "scale": {"range": ["#1f77b4"]}, "legend": {"title": null, "symbolType": "M0,-1L0,1M-0.55,0A0.55,0.55,0,1,0,0.55,0A0.55,0.55,0,1,0,-0.55,0Z", "symbolSize": 110, "symbolStrokeColor": "#1f77b4", "symbolStrokeWidth": 1.3}}
          }
        },
        {
          "data": {"name": "lines"},
          "mark": {"type": "rule", "color": "#229922", "strokeWidth": 1.5, "strokeDash": [8, 2.5, 1.5, 2.5]},
          "encoding": {"x": {"field": "t", "type": "quantitative"}}
        }
      ]
    },
    {
      "width": 880,
      "height": 120,
      "layer": [
        {
          "data": {"name": "opt"},
          "transform": [{"filter": {"field": "b", "equal": "V-Band"}}],
          "mark": {"type": "errorbar", "ticks": false, "color": "#ff0000", "thickness": 1.2},
          "encoding": {
            "x": {"field": "t", "type": "quantitative", "scale": {"domain": [54820, 55700], "nice": false, "zero": false}, "axis": null},
            "y": {"field": "f", "type": "quantitative", "title": "Flux", "scale": {"domain": [0, 11.8], "nice": false}, "axis": {"values": [0, 5, 10]}},
            "yError": {"field": "e"}
          }
        },
        {
          "data": {"name": "opt"},
          "transform": [{"filter": {"field": "b", "equal": "B-Band"}}],
          "mark": {"type": "errorbar", "ticks": false, "color": "#0000ff", "thickness": 1.2},
          "encoding": {
            "x": {"field": "t", "type": "quantitative"},
            "y": {"field": "f", "type": "quantitative", "title": "Flux", "axis": {"values": [0, 5, 10]}},
            "yError": {"field": "e"}
          }
        },
        {
          "data": {"name": "opt"},
          "transform": [{"filter": {"field": "b", "equal": "U-Band"}}],
          "mark": {"type": "errorbar", "ticks": false, "color": "#008000", "thickness": 1.2},
          "encoding": {
            "x": {"field": "t", "type": "quantitative"},
            "y": {"field": "f", "type": "quantitative", "title": "Flux", "axis": {"values": [0, 5, 10]}},
            "yError": {"field": "e"}
          }
        },
        {
          "data": {"name": "opt"},
          "mark": {"type": "point", "filled": true, "size": 50, "opacity": 1},
          "encoding": {
            "x": {"field": "t", "type": "quantitative"},
            "y": {"field": "f", "type": "quantitative", "title": "Flux", "axis": {"values": [0, 5, 10]}},
            "color": {"field": "b", "type": "nominal", "scale": {"domain": ["V-Band", "B-Band", "U-Band"], "range": ["#ff0000", "#0000ff", "#008000"]}, "legend": {"title": null}},
            "shape": {"field": "b", "type": "nominal", "scale": {"domain": ["V-Band", "B-Band", "U-Band"], "range": ["circle", "square", "triangle-up"]}, "legend": {"title": null}}
          }
        },
        {
          "data": {"name": "lines"},
          "mark": {"type": "rule", "color": "#229922", "strokeWidth": 1.5, "strokeDash": [8, 2.5, 1.5, 2.5]},
          "encoding": {"x": {"field": "t", "type": "quantitative"}}
        }
      ]
    },
    {
      "width": 880,
      "height": 120,
      "layer": [
        {
          "data": {"name": "uv"},
          "transform": [{"filter": {"field": "b", "equal": "W1-Band"}}],
          "mark": {"type": "errorbar", "ticks": false, "color": "#ff0000", "thickness": 1.2},
          "encoding": {
            "x": {"field": "t", "type": "quantitative", "title": "Time (MJD)", "scale": {"domain": [54820, 55700], "nice": false, "zero": false}, "axis": {"values": [54900, 55000, 55100, 55200, 55300, 55400, 55500, 55600, 55700], "format": "d"}},
            "y": {"field": "f", "type": "quantitative", "title": "Flux", "scale": {"domain": [0, 7.5], "nice": false}, "axis": {"values": [0, 2, 4, 6]}},
            "yError": {"field": "e"}
          }
        },
        {
          "data": {"name": "uv"},
          "transform": [{"filter": {"field": "b", "equal": "M2-Band"}}],
          "mark": {"type": "errorbar", "ticks": false, "color": "#0000ff", "thickness": 1.2},
          "encoding": {
            "x": {"field": "t", "type": "quantitative", "title": "Time (MJD)"},
            "y": {"field": "f", "type": "quantitative", "title": "Flux", "axis": {"values": [0, 2, 4, 6]}},
            "yError": {"field": "e"}
          }
        },
        {
          "data": {"name": "uv"},
          "transform": [{"filter": {"field": "b", "equal": "W2-Band"}}],
          "mark": {"type": "errorbar", "ticks": false, "color": "#008000", "thickness": 1.2},
          "encoding": {
            "x": {"field": "t", "type": "quantitative", "title": "Time (MJD)"},
            "y": {"field": "f", "type": "quantitative", "title": "Flux", "axis": {"values": [0, 2, 4, 6]}},
            "yError": {"field": "e"}
          }
        },
        {
          "data": {"name": "uv"},
          "mark": {"type": "point", "filled": true, "size": 50, "opacity": 1},
          "encoding": {
            "x": {"field": "t", "type": "quantitative", "title": "Time (MJD)"},
            "y": {"field": "f", "type": "quantitative", "title": "Flux", "axis": {"values": [0, 2, 4, 6]}},
            "color": {"field": "b", "type": "nominal", "scale": {"domain": ["W1-Band", "M2-Band", "W2-Band"], "range": ["#ff0000", "#0000ff", "#008000"]}, "legend": {"title": null}},
            "shape": {"field": "b", "type": "nominal", "scale": {"domain": ["W1-Band", "M2-Band", "W2-Band"], "range": ["circle", "square", "triangle-up"]}, "legend": {"title": null}}
          }
        },
        {
          "data": {"name": "lines"},
          "mark": {"type": "rule", "color": "#229922", "strokeWidth": 1.5, "strokeDash": [8, 2.5, 1.5, 2.5]},
          "encoding": {"x": {"field": "t", "type": "quantitative", "title": "Time (MJD)"}}
        }
      ]
    }
  ],
  "resolve": {
    "scale": {"x": "independent", "y": "independent", "color": "independent", "shape": "independent"},
    "legend": {"color": "independent", "shape": "independent"}
  },
  "config": {
    "font": "DejaVu Sans",
    "view": {"stroke": "#444444", "strokeWidth": 1},
    "axis": {
      "grid": false,
      "domain": false,
      "labelFont": "DejaVu Sans",
      "titleFont": "DejaVu Sans",
      "labelFontSize": 12,
      "titleFontSize": 17,
      "titleFontWeight": "normal",
      "labelColor": "#000000",
      "titleColor": "#000000",
      "tickColor": "#333333",
      "tickSize": 4,
      "labelPadding": 2,
      "titlePadding": 6,
      "labelOverlap": false
    },
    "legend": {
      "orient": "top-right",
      "offset": 5,
      "fillColor": "white",
      "strokeColor": "#cccccc",
      "cornerRadius": 3,
      "padding": 5,
      "labelFont": "DejaVu Sans",
      "labelFontSize": 10,
      "labelColor": "#000000",
      "symbolSize": 40,
      "symbolStrokeWidth": 0,
      "labelOffset": 14,
      "rowPadding": 5
    },
    "title": {"font": "DejaVu Sans", "color": "#000000"}
  }
}
